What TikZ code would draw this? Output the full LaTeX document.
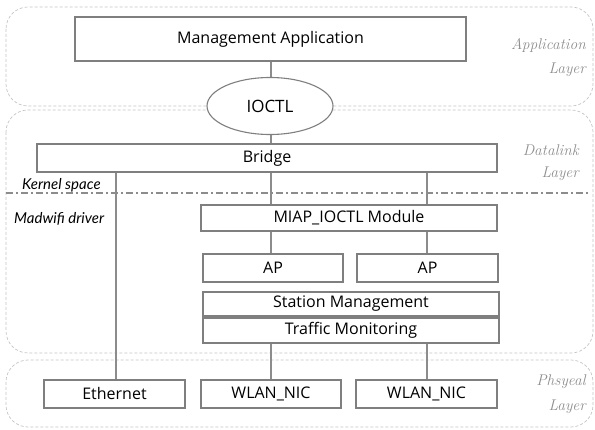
\documentclass[tikz,border=0pt]{standalone}
\usepackage{fontspec}
\newfontfamily\boxfont{Open Sans}
\newfontfamily\notefont{Lato}
\usetikzlibrary{shapes.geometric}
\definecolor{boxgray}{HTML}{7F7F7F}
\definecolor{linegray}{HTML}{8C8C8C}
\definecolor{layergray}{HTML}{C4C4C4}
\definecolor{labelgray}{HTML}{8E8E8E}
\begin{document}
\begin{tikzpicture}[x=1pt,y=-1pt,
  box/.style={draw=boxgray, line width=1.1pt, fill=white, inner sep=0pt, font=\boxfont\fontsize{16}{18}\selectfont},
  ovalbox/.style={ellipse, draw=boxgray, line width=1.1pt, fill=white, inner sep=0pt, font=\boxfont\fontsize{17}{19}\selectfont},
  layer/.style={draw=layergray, dash pattern=on 3pt off 2pt, rounded corners=22pt, line width=0.7pt},
  conn/.style={draw=linegray, line width=1.1pt},
  sepline/.style={draw=linegray, line width=1.1pt, dash pattern=on 7pt off 3pt on 2pt off 3pt},
  layerlabel/.style={text=labelgray, inner sep=0pt, anchor=east, font=\itshape\fontsize{15.5}{17}\selectfont},
  note/.style={inner sep=0pt, anchor=west, font=\notefont\itshape\fontsize{15}{17}\selectfont}
]
\useasboundingbox (0,0) rectangle (595,430);
% layers
\draw[layer] (6,7) rectangle (593,106);
\draw[layer] (6,110) rectangle (593,353);
\draw[layer] (6,360) rectangle (593,427);
\node[layerlabel] (lapp1) at (586,45) {Application};
\node[layerlabel] (lapp2) at (586,70) {Layer};
\node[layerlabel] (ldl1) at (579,150) {Datalink};
\node[layerlabel] (ldl2) at (579,174) {Layer};
\node[layerlabel] (lph1) at (586,382) {Phsyeal};
\node[layerlabel] (lph2) at (586,407) {Layer};
% kernel / driver separation
\coordinate (sepL) at (6,193);
\coordinate (sepR) at (590,193);
\draw[sepline] (sepL) -- (sepR);
\node[note] (kern) at (22,185) {Kernel space};
\node[note] (madw) at (14,219) {Madwifi driver};
% x positions of connectors
\coordinate (xa) at (271,0);
\coordinate (xb) at (427,0);
\coordinate (xe) at (116,0);
% boxes
\node[box, minimum width=391pt, minimum height=44pt] (mgmt) at (270.5,39) {Management Application};
\node[ovalbox, minimum width=126pt, minimum height=57pt] (ioctl) at (270,106) {IOCTL};
\node[box, minimum width=460pt, minimum height=28pt] (bridge) at (267,158) {Bridge};
\node[box, minimum width=296pt, minimum height=26pt] (miap) at (349,218) {MIAP\_IOCTL Module};
\node[box, minimum width=140pt, minimum height=28pt] (ap1) at (273,268) {AP};
\node[box, minimum width=141pt, minimum height=28pt] (ap2) at (427.5,268) {AP};
\node[box, minimum width=296pt, minimum height=24pt] (station) at (351,304) {Station Management};
\node[box, minimum width=296pt, minimum height=25pt] (traffic) at (351,330.5) {Traffic Monitoring};
\node[box, minimum width=141pt, minimum height=28pt] (eth) at (114.5,394) {Ethernet};
\node[box, minimum width=140pt, minimum height=28pt] (wlan1) at (271,394) {WLAN\_NIC};
\node[box, minimum width=141pt, minimum height=28pt] (wlan2) at (426.5,394) {WLAN\_NIC};
% connectors
\draw[conn] (mgmt.south -| xa) -- (ioctl.north -| xa);
\draw[conn] (ioctl.south -| xa) -- (bridge.north -| xa);
\draw[conn] (bridge.south -| xe) -- (eth.north -| xe);
\draw[conn] (bridge.south -| xa) -- (miap.north -| xa);
\draw[conn] (bridge.south -| xb) -- (miap.north -| xb);
\draw[conn] (miap.south -| xa) -- (ap1.north -| xa);
\draw[conn] (miap.south -| xb) -- (ap2.north -| xb);
\draw[conn] (traffic.south -| xa) -- (wlan1.north -| xa);
\draw[conn] (traffic.south -| xb) -- (wlan2.north -| xb);
\end{tikzpicture}
\end{document}
